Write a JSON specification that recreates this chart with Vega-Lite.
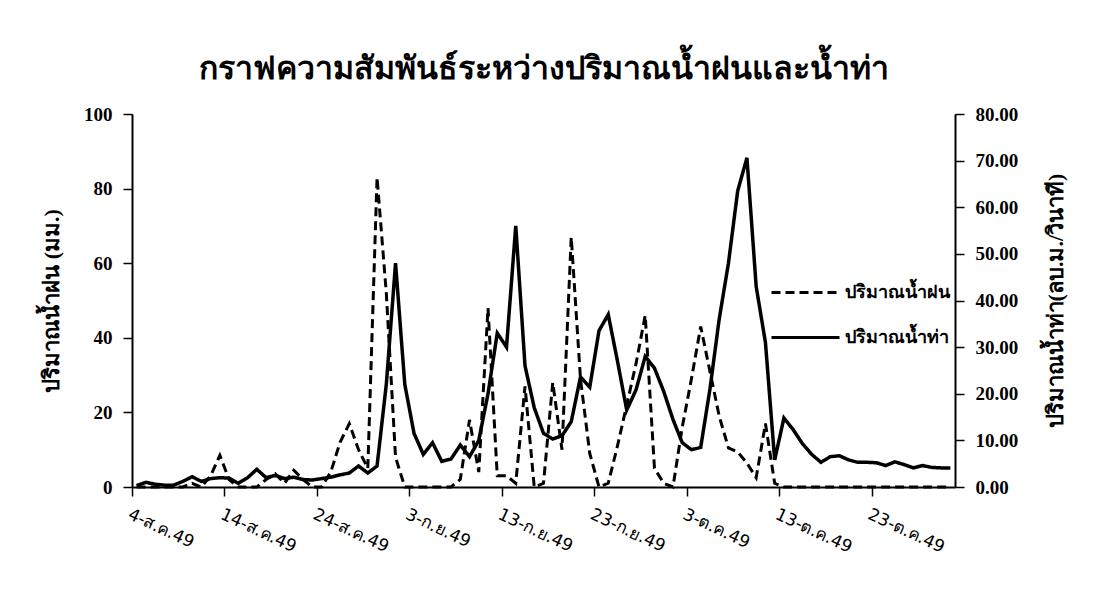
{
  "$schema": "https://vega.github.io/schema/vega-lite/v6.json",
  "width": 823,
  "height": 373,
  "autosize": "none",
  "padding": {"left": 132, "top": 114, "right": 141, "bottom": 125},
  "background": "white",
  "config": {"view": {"stroke": null}, "font": "Liberation Serif"},
  "title": {
    "text": "กราฟความสัมพันธ์ระหว่างปริมาณน้ำฝนและน้ำท่า",
    "fontSize": 32,
    "fontWeight": "bold",
    "anchor": "middle",
    "frame": "group",
    "offset": 19,
    "color": "black"
  },
  "data": {
    "values": [
      {"d": "2006-08-04", "rain": 0, "flow": 0.3},
      {"d": "2006-08-05", "rain": 0, "flow": 1.0},
      {"d": "2006-08-06", "rain": 0, "flow": 0.6},
      {"d": "2006-08-07", "rain": 0, "flow": 0.4},
      {"d": "2006-08-08", "rain": 0, "flow": 0.4},
      {"d": "2006-08-09", "rain": 0, "flow": 1.2},
      {"d": "2006-08-10", "rain": 1, "flow": 2.2},
      {"d": "2006-08-11", "rain": 0, "flow": 1.2},
      {"d": "2006-08-12", "rain": 3, "flow": 1.8},
      {"d": "2006-08-13", "rain": 8.5, "flow": 2.0},
      {"d": "2006-08-14", "rain": 2, "flow": 1.9},
      {"d": "2006-08-15", "rain": 0, "flow": 0.8},
      {"d": "2006-08-16", "rain": 0, "flow": 2.0},
      {"d": "2006-08-17", "rain": 0, "flow": 3.8},
      {"d": "2006-08-18", "rain": 2, "flow": 2.0},
      {"d": "2006-08-19", "rain": 3.5, "flow": 2.5},
      {"d": "2006-08-20", "rain": 1, "flow": 1.8},
      {"d": "2006-08-21", "rain": 4.5, "flow": 2.1},
      {"d": "2006-08-22", "rain": 2, "flow": 1.6},
      {"d": "2006-08-23", "rain": 0, "flow": 1.5},
      {"d": "2006-08-24", "rain": 0, "flow": 1.8},
      {"d": "2006-08-25", "rain": 4, "flow": 2.1},
      {"d": "2006-08-26", "rain": 12, "flow": 2.6},
      {"d": "2006-08-27", "rain": 17, "flow": 3.0},
      {"d": "2006-08-28", "rain": 10, "flow": 4.5},
      {"d": "2006-08-29", "rain": 5, "flow": 3.0},
      {"d": "2006-08-30", "rain": 83, "flow": 4.5},
      {"d": "2006-08-31", "rain": 52, "flow": 22},
      {"d": "2006-09-01", "rain": 8, "flow": 48},
      {"d": "2006-09-02", "rain": 0, "flow": 22},
      {"d": "2006-09-03", "rain": 0, "flow": 11.5},
      {"d": "2006-09-04", "rain": 0, "flow": 7},
      {"d": "2006-09-05", "rain": 0, "flow": 9.5},
      {"d": "2006-09-06", "rain": 0, "flow": 5.5},
      {"d": "2006-09-07", "rain": 0, "flow": 6},
      {"d": "2006-09-08", "rain": 2, "flow": 9},
      {"d": "2006-09-09", "rain": 18, "flow": 6.5},
      {"d": "2006-09-10", "rain": 4, "flow": 10},
      {"d": "2006-09-11", "rain": 48, "flow": 20},
      {"d": "2006-09-12", "rain": 3, "flow": 33},
      {"d": "2006-09-13", "rain": 3, "flow": 30},
      {"d": "2006-09-14", "rain": 1, "flow": 56},
      {"d": "2006-09-15", "rain": 27, "flow": 26},
      {"d": "2006-09-16", "rain": 0, "flow": 17},
      {"d": "2006-09-17", "rain": 1, "flow": 11.5},
      {"d": "2006-09-18", "rain": 28, "flow": 10.3},
      {"d": "2006-09-19", "rain": 10, "flow": 11},
      {"d": "2006-09-20", "rain": 67, "flow": 14},
      {"d": "2006-09-21", "rain": 29, "flow": 23.6},
      {"d": "2006-09-22", "rain": 9, "flow": 21.4},
      {"d": "2006-09-23", "rain": 0, "flow": 33.5},
      {"d": "2006-09-24", "rain": 1, "flow": 37},
      {"d": "2006-09-25", "rain": 11, "flow": 27},
      {"d": "2006-09-26", "rain": 22, "flow": 16.5},
      {"d": "2006-09-27", "rain": 33, "flow": 20.8},
      {"d": "2006-09-28", "rain": 46, "flow": 28},
      {"d": "2006-09-29", "rain": 5, "flow": 25.5},
      {"d": "2006-09-30", "rain": 1, "flow": 20.5},
      {"d": "2006-10-01", "rain": 0, "flow": 14.5},
      {"d": "2006-10-02", "rain": 16, "flow": 9.5},
      {"d": "2006-10-03", "rain": 29, "flow": 8},
      {"d": "2006-10-04", "rain": 43, "flow": 8.5},
      {"d": "2006-10-05", "rain": 31, "flow": 21},
      {"d": "2006-10-06", "rain": 19, "flow": 36},
      {"d": "2006-10-07", "rain": 10.5, "flow": 48},
      {"d": "2006-10-08", "rain": 9.4, "flow": 63.5},
      {"d": "2006-10-09", "rain": 6.4, "flow": 70.6},
      {"d": "2006-10-10", "rain": 2.5, "flow": 43},
      {"d": "2006-10-11", "rain": 17, "flow": 31},
      {"d": "2006-10-12", "rain": 1, "flow": 5.8},
      {"d": "2006-10-13", "rain": 0, "flow": 14.8},
      {"d": "2006-10-14", "rain": 0, "flow": 12.3},
      {"d": "2006-10-15", "rain": 0, "flow": 9.3},
      {"d": "2006-10-16", "rain": 0, "flow": 7},
      {"d": "2006-10-17", "rain": 0, "flow": 5.3},
      {"d": "2006-10-18", "rain": 0, "flow": 6.5},
      {"d": "2006-10-19", "rain": 0, "flow": 6.7},
      {"d": "2006-10-20", "rain": 0, "flow": 5.8},
      {"d": "2006-10-21", "rain": 0, "flow": 5.3},
      {"d": "2006-10-22", "rain": 0, "flow": 5.3},
      {"d": "2006-10-23", "rain": 0, "flow": 5.2},
      {"d": "2006-10-24", "rain": 0, "flow": 4.6},
      {"d": "2006-10-25", "rain": 0, "flow": 5.4},
      {"d": "2006-10-26", "rain": 0, "flow": 4.8},
      {"d": "2006-10-27", "rain": 0, "flow": 4.1},
      {"d": "2006-10-28", "rain": 0, "flow": 4.6},
      {"d": "2006-10-29", "rain": 0, "flow": 4.2},
      {"d": "2006-10-30", "rain": 0, "flow": 4.1},
      {"d": "2006-10-31", "rain": 0, "flow": 4.1}
    ]
  },
  "encoding": {
    "x": {
      "field": "d",
      "type": "temporal",
      "scale": {
        "type": "utc",
        "domain": [
          {"year": 2006, "month": 8, "date": 3, "hours": 12, "utc": true},
          {"year": 2006, "month": 10, "date": 31, "hours": 12, "utc": true}
        ]
      },
      "axis": {
        "title": null,
        "values": [
          {"year": 2006, "month": 8, "date": 3, "hours": 12, "utc": true},
          {"year": 2006, "month": 8, "date": 13, "hours": 12, "utc": true},
          {"year": 2006, "month": 8, "date": 23, "hours": 12, "utc": true},
          {"year": 2006, "month": 9, "date": 2, "hours": 12, "utc": true},
          {"year": 2006, "month": 9, "date": 12, "hours": 12, "utc": true},
          {"year": 2006, "month": 9, "date": 22, "hours": 12, "utc": true},
          {"year": 2006, "month": 10, "date": 2, "hours": 12, "utc": true},
          {"year": 2006, "month": 10, "date": 12, "hours": 12, "utc": true},
          {"year": 2006, "month": 10, "date": 22, "hours": 12, "utc": true}
        ],
        "labelExpr": "utcdate(datum.value + 43200000) + '-' + ['ม.ค.','ก.พ.','มี.ค.','เม.ย.','พ.ค.','มิ.ย.','ก.ค.','ส.ค.','ก.ย.','ต.ค.','พ.ย.','ธ.ค.'][utcmonth(datum.value + 43200000)] + '49'",
        "labelAngle": 25,
        "labelAlign": "left",
        "labelBaseline": "top",
        "labelFontSize": 17,
        "labelFont": "DejaVu Sans",
        "labelColor": "black",
        "labelPadding": 10,
        "labelFlush": false,
        "labelOverlap": false,
        "tickSize": 9,
        "tickColor": "black",
        "tickWidth": 1.5,
        "domainColor": "black",
        "domainWidth": 2,
        "grid": false
      }
    }
  },
  "layer": [
    {
      "mark": {"type": "line", "color": "black", "strokeWidth": 3},
      "encoding": {
        "y": {
          "field": "rain",
          "type": "quantitative",
          "scale": {"domain": [0, 100]},
          "axis": {
            "orient": "left",
            "title": "ปริมาณน้ำฝน (มม.)",
            "titleFontSize": 22,
            "titleFontWeight": "bold",
            "titleColor": "black",
            "titlePadding": 20,
            "values": [0, 20, 40, 60, 80, 100],
            "format": "d",
            "labelFontSize": 19,
            "labelFontWeight": "bold",
            "labelColor": "black",
            "labelPadding": 11,
            "tickSize": 9,
            "tickColor": "black",
            "tickWidth": 1.5,
            "domainColor": "black",
            "domainWidth": 2,
            "grid": false
          }
        },
        "strokeDash": {
          "datum": "ปริมาณน้ำฝน",
          "type": "nominal",
          "scale": {"domain": ["ปริมาณน้ำฝน", "ปริมาณน้ำท่า"], "range": [[9, 5], [1, 0]]},
          "legend": {
            "title": null,
            "orient": "none",
            "legendX": 638,
            "legendY": 143,
            "symbolType": "stroke",
            "symbolSize": 4624,
            "symbolStrokeWidth": 3,
            "symbolStrokeColor": "black",
            "labelFontSize": 18,
            "labelFontWeight": "bold",
            "labelColor": "black",
            "labelOffset": 4,
            "rowPadding": -14
          }
        }
      }
    },
    {
      "mark": {"type": "line", "color": "black", "strokeWidth": 3.5},
      "encoding": {
        "y": {
          "field": "flow",
          "type": "quantitative",
          "scale": {"domain": [0, 80]},
          "axis": {
            "orient": "right",
            "title": "ปริมาณน้ำท่า(ลบ.ม./วินาที)",
            "titleAngle": 270,
            "titleFontSize": 22,
            "titleFontWeight": "bold",
            "titleColor": "black",
            "titlePadding": 50,
            "values": [0, 10, 20, 30, 40, 50, 60, 70, 80],
            "format": ".2f",
            "labelFontSize": 19,
            "labelFontWeight": "bold",
            "labelColor": "black",
            "labelPadding": 11,
            "tickSize": 9,
            "tickColor": "black",
            "tickWidth": 1.5,
            "domainColor": "black",
            "domainWidth": 2,
            "grid": false
          }
        },
        "strokeDash": {"datum": "ปริมาณน้ำท่า", "type": "nominal"}
      }
    }
  ],
  "resolve": {"scale": {"y": "independent"}}
}
